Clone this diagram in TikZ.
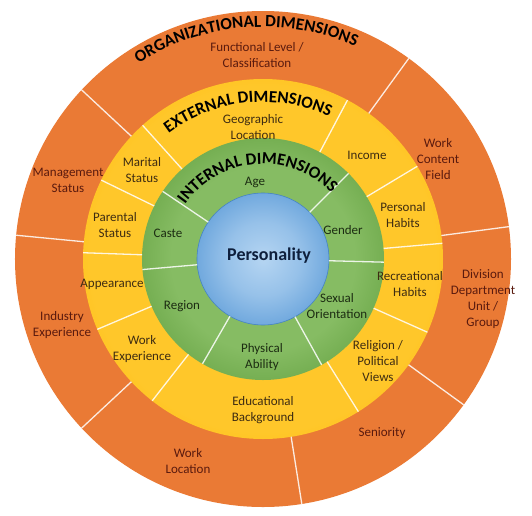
\documentclass[tikz,border=0pt]{standalone}
\usepackage{fontspec}
\setmainfont{Carlito}
\usepackage{xcolor}
\definecolor{ORGcolor}{HTML}{EA7A35}
\definecolor{ORGlight}{HTML}{EF8541}
\definecolor{EXTlight}{HTML}{FFC72A}
\definecolor{EXTcolor}{HTML}{FFB900}
\definecolor{INTlight}{HTML}{86BC63}
\definecolor{INTcolor}{HTML}{5A9937}
\definecolor{COREedge}{HTML}{4583C4}
\definecolor{CORElight}{HTML}{B5D5F2}
\definecolor{COREcolor}{HTML}{4F93D4}
\definecolor{ORGtext}{HTML}{5A1A0E}
\definecolor{EXTtext}{HTML}{3E2C12}
\definecolor{INTtext}{HTML}{1C2C12}
\definecolor{COREtext}{HTML}{0E1F3C}
\usepackage{tikz}
\usetikzlibrary{math, decorations.text}

\pgfdeclareradialshading{orgshade}{\pgfpoint{0bp}{0bp}}{color(0bp)=(ORGcolor); color(26bp)=(ORGcolor); color(35bp)=(ORGlight); color(50bp)=(ORGlight)}
\pgfdeclareradialshading{extshade}{\pgfpoint{0bp}{0bp}}{color(0bp)=(EXTlight); color(24bp)=(EXTlight); color(35bp)=(EXTcolor); color(50bp)=(EXTcolor)}
\pgfdeclareradialshading{intshade}{\pgfpoint{0bp}{0bp}}{color(0bp)=(INTlight); color(19bp)=(INTlight); color(35bp)=(INTcolor); color(50bp)=(INTcolor)}
\pgfdeclareradialshading{coreshade}{\pgfpoint{0bp}{0bp}}{color(0bp)=(CORElight); color(14bp)=(CORElight!70!COREcolor); color(35bp)=(COREcolor); color(50bp)=(COREcolor)}

\begin{document}
\begin{tikzpicture}[x=1pt, y=1pt]
    \tikzset{%
        divider/.style={draw=white, line width=1.3pt, opacity=0.85},
        orglabel/.style={align=center, text=ORGtext, font=\fontsize{13}{16}\selectfont},
        extlabel/.style={align=center, text=EXTtext, font=\fontsize{13}{16}\selectfont},
        intlabel/.style={align=center, text=INTtext, font=\fontsize{13}{16}\selectfont},
        ringtitle/.style={decorate, decoration={text along path, text align=center,
                    text={|\bfseries\fontsize{17}{17}\selectfont|#1}}}
    }
    \tikzmath{%
        \rorg=248;
        \rext=180;
        \rint=121;
        \rcore=66;
    }

    \useasboundingbox (-263, -256) rectangle (269, 259);

    % rings
    \shade [shading=orgshade] (0, 0) circle [radius=\rorg];
    \shade [shading=extshade] (0, 0) circle [radius=\rext];
    \shade [shading=intshade] (0, 0) circle [radius=\rint];
    \shade [shading=coreshade, draw=COREedge, line width=0.6pt] (0, 0) circle [radius=\rcore];

    % dividers
    \foreach \a in {137, 54, 7.5, -36, -81, 223, 174.5} {%
            \draw [divider] (\a:\rext) -- (\a:\rorg);
        };
    \foreach \a in {132, 62, 31, 5, -24, -58, 232, 203, 178, 154} {%
            \draw [divider] (\a:\rint) -- (\a:\rext);
        };
    \foreach \a in {146, 45, -1.5, -61, 240, 185} {%
            \draw [divider] (\a:\rcore) -- (\a:\rint);
        };

    % titles
    \path [ringtitle=ORGANIZATIONAL DIMENSIONS] (154.5:232) arc [start angle=154.5, end angle=34.5, radius=232];
    \path [ringtitle=EXTERNAL DIMENSIONS] (156:157) arc [start angle=156, end angle=36, radius=157];
    \path [ringtitle=INTERNAL DIMENSIONS] (164.5:95) arc [start angle=164.5, end angle=24.5, radius=95];

    % organizational
    \node [orglabel] (funclevel) at (-6, 204) {Functional Level /\\Classification};
    \node [orglabel] (workcontent) at (175, 100) {Work\\Content\\Field};
    \node [orglabel] (division) at (220, -40) {Division\\Department\\Unit /\\Group};
    \node [orglabel] (seniority) at (119, -174) {Seniority};
    \node [orglabel] (worklocation) at (-75, -202) {Work\\Location};
    \node [orglabel] (industry) at (-201, -66) {Industry\\Experience};
    \node [orglabel] (mgmtstatus) at (-195, 79) {Management\\Status};

    % external
    \node [extlabel] (geolocation) at (-10, 132) {Geographic\\Location};
    \node [extlabel] (income) at (104, 104) {Income};
    \node [extlabel] (personalhabits) at (140, 44) {Personal\\Habits};
    \node [extlabel] (recreational) at (147, -25) {Recreational\\Habits};
    \node [extlabel] (religion) at (115, -102) {Religion /\\Political\\Views};
    \node [extlabel] (educational) at (0, -151) {Educational\\Background};
    \node [extlabel] (workexp) at (-121, -90) {Work\\Experience};
    \node [extlabel] (appearance) at (-151, -25) {Appearance};
    \node [extlabel] (parental) at (-148, 34) {Parental\\Status};
    \node [extlabel] (marital) at (-121, 89) {Marital\\Status};

    % internal
    \node [intlabel] (age) at (-8, 77) {Age};
    \node [intlabel] (gender) at (80, 29) {Gender};
    \node [intlabel] (sexual) at (74, -47) {Sexual\\Orientation};
    \node [intlabel] (physical) at (-1, -98) {Physical\\Ability};
    \node [intlabel] (region) at (-81, -47) {Region};
    \node [intlabel] (caste) at (-95, 26) {Caste};

    % core
    \node [text=COREtext, font=\bfseries\fontsize{18}{18}\selectfont] (personality) at (6, 3) {Personality};

\end{tikzpicture}
\end{document}
